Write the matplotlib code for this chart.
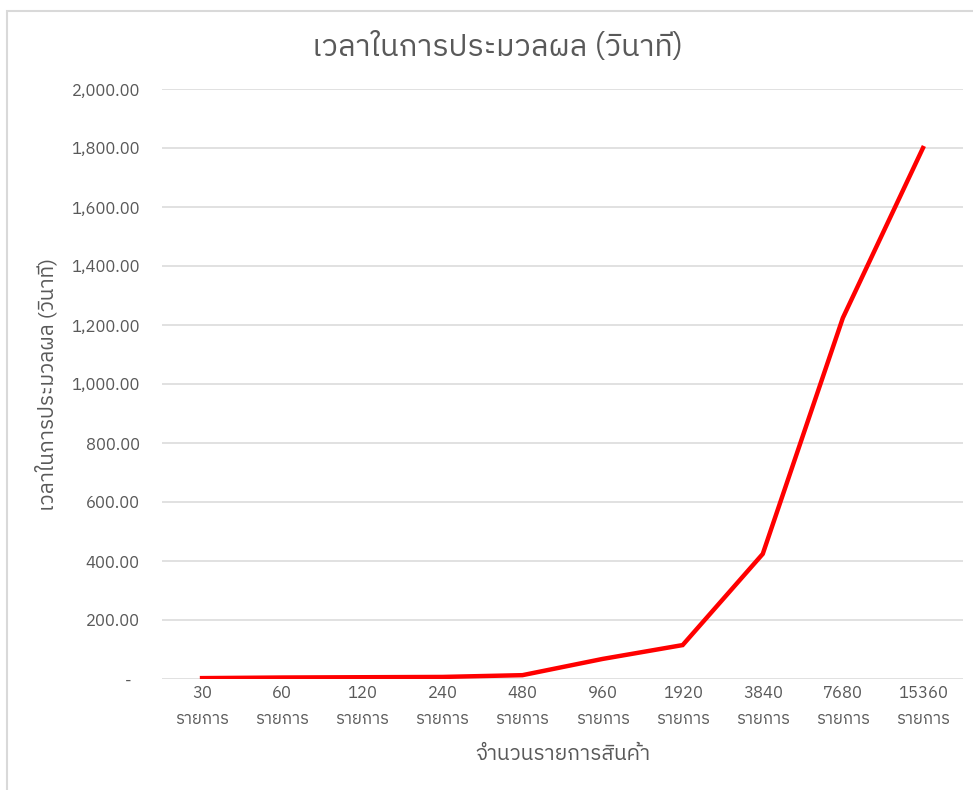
import matplotlib
matplotlib.use("Agg")
import matplotlib.pyplot as plt
from matplotlib.patches import Rectangle
from matplotlib.ticker import FuncFormatter

# ข้อมูล: จำนวนรายการสินค้า กับ เวลาที่ใช้ (วินาที)
items = ["30", "60", "120", "240", "480", "960", "1920", "3840", "7680", "15360"]
seconds = [3, 5, 6, 7, 13, 68, 115, 424, 1224, 1800]
unit = "รายการ"

title = "เวลาในการประมวลผล (วินาที)"
xlabel = "จำนวนรายการสินค้า"
ylabel = "เวลาในการประมวลผล (วินาที)"

plt.rcParams['font.family'] = ['IBM Plex Sans Thai', 'Noto Sans', 'DejaVu Sans']
txt = "#595959"

fig = plt.figure(figsize=(9.73, 7.9), dpi=100)
# กรอบนอกของแผนภูมิ
fig.patches.append(Rectangle((7 / 973, -0.05), 1.1, 1 - 11 / 790 + 0.05,
                             transform=fig.transFigure, fill=False,
                             edgecolor="#d9d9d9", linewidth=1.5))

ax = fig.add_axes([162 / 973, 1 - 679 / 790, (963 - 162) / 973, (679 - 89) / 790])
x = list(range(len(items)))
ax.plot(x, seconds, color="#ff0000", linewidth=3.2, solid_joinstyle="miter", zorder=3)

ax.set_xlim(-0.5, len(items) - 0.5)
ax.set_ylim(0, 2000)
ax.set_yticks(range(0, 2001, 200))
ax.yaxis.set_major_formatter(FuncFormatter(lambda v, p: "-  " if v == 0 else "{:,.2f}".format(v)))
ax.set_xticks(x)
ax.set_xticklabels([s + "\n" + unit for s in items], linespacing=1.8)

ax.grid(axis="y", color="#d9d9d9", linewidth=1.1)
ax.set_axisbelow(True)
for s in ax.spines.values():
    s.set_visible(False)
ax.tick_params(axis="y", length=0, pad=16, labelsize=12, labelcolor=txt)
ax.tick_params(axis="x", length=0, pad=4, labelsize=12, labelcolor=txt)

fig.text(497 / 973, 1 - 47 / 790, title, fontsize=22, color=txt, ha="center", va="center")
ax.set_xlabel(xlabel, fontsize=15, color=txt, labelpad=13)
ax.set_ylabel(ylabel, fontsize=15, color=txt, labelpad=10)

fig.savefig("out.png")
